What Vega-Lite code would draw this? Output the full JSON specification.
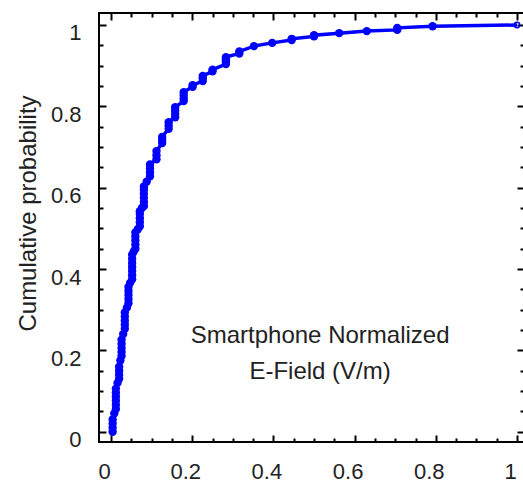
{
  "$schema": "https://vega.github.io/schema/vega-lite/v6.json",
  "width": 425,
  "height": 429,
  "autosize": {"type": "none"},
  "padding": {"left": 99, "top": 13, "right": 0, "bottom": 47},
  "background": "white",
  "config": {
    "view": {"stroke": "black", "strokeWidth": 2},
    "axis": {"grid": false, "domain": false, "tickColor": "black", "tickWidth": 2, "labelFont": "Liberation Sans", "labelFontSize": 22, "labelColor": "#222", "titleFont": "Liberation Sans", "titleFontSize": 24, "titleFontWeight": "normal", "titleColor": "#222", "labelFlush": false}
  },
  "data": {"values": [
    {"x": 0.004, "p": 0.0}, {"x": 0.004, "p": 0.01}, {"x": 0.004, "p": 0.02}, {"x": 0.004, "p": 0.03},
    {"x": 0.008, "p": 0.045},
    {"x": 0.012, "p": 0.056}, {"x": 0.012, "p": 0.066}, {"x": 0.012, "p": 0.076}, {"x": 0.012, "p": 0.086}, {"x": 0.012, "p": 0.096}, {"x": 0.012, "p": 0.106},
    {"x": 0.016, "p": 0.12},
    {"x": 0.02, "p": 0.13}, {"x": 0.02, "p": 0.14}, {"x": 0.02, "p": 0.15}, {"x": 0.02, "p": 0.16},
    {"x": 0.023, "p": 0.175},
    {"x": 0.026, "p": 0.186}, {"x": 0.026, "p": 0.196}, {"x": 0.026, "p": 0.206}, {"x": 0.026, "p": 0.216}, {"x": 0.026, "p": 0.226},
    {"x": 0.03, "p": 0.24},
    {"x": 0.034, "p": 0.253}, {"x": 0.034, "p": 0.263}, {"x": 0.034, "p": 0.273}, {"x": 0.034, "p": 0.283}, {"x": 0.034, "p": 0.293},
    {"x": 0.039, "p": 0.305},
    {"x": 0.043, "p": 0.316}, {"x": 0.043, "p": 0.326}, {"x": 0.043, "p": 0.336}, {"x": 0.043, "p": 0.346}, {"x": 0.043, "p": 0.356},
    {"x": 0.047, "p": 0.366},
    {"x": 0.052, "p": 0.375}, {"x": 0.052, "p": 0.385}, {"x": 0.052, "p": 0.395}, {"x": 0.052, "p": 0.405}, {"x": 0.052, "p": 0.415}, {"x": 0.052, "p": 0.425}, {"x": 0.052, "p": 0.435},
    {"x": 0.056, "p": 0.443},
    {"x": 0.06, "p": 0.45}, {"x": 0.06, "p": 0.46}, {"x": 0.06, "p": 0.47}, {"x": 0.06, "p": 0.48}, {"x": 0.06, "p": 0.49},
    {"x": 0.066, "p": 0.498},
    {"x": 0.071, "p": 0.505}, {"x": 0.071, "p": 0.515}, {"x": 0.071, "p": 0.525}, {"x": 0.071, "p": 0.535}, {"x": 0.071, "p": 0.542},
    {"x": 0.076, "p": 0.55},
    {"x": 0.081, "p": 0.555}, {"x": 0.081, "p": 0.565}, {"x": 0.081, "p": 0.575}, {"x": 0.081, "p": 0.585}, {"x": 0.081, "p": 0.595}, {"x": 0.081, "p": 0.603},
    {"x": 0.088, "p": 0.615},
    {"x": 0.096, "p": 0.628}, {"x": 0.096, "p": 0.638}, {"x": 0.096, "p": 0.648}, {"x": 0.096, "p": 0.657},
    {"x": 0.112, "p": 0.67}, {"x": 0.112, "p": 0.68}, {"x": 0.112, "p": 0.69},
    {"x": 0.126, "p": 0.71}, {"x": 0.126, "p": 0.718}, {"x": 0.126, "p": 0.725},
    {"x": 0.142, "p": 0.745}, {"x": 0.142, "p": 0.753}, {"x": 0.142, "p": 0.761},
    {"x": 0.158, "p": 0.773}, {"x": 0.158, "p": 0.782}, {"x": 0.158, "p": 0.79}, {"x": 0.158, "p": 0.798},
    {"x": 0.179, "p": 0.813}, {"x": 0.179, "p": 0.82}, {"x": 0.179, "p": 0.828}, {"x": 0.179, "p": 0.835},
    {"x": 0.201, "p": 0.848}, {"x": 0.201, "p": 0.852},
    {"x": 0.226, "p": 0.862}, {"x": 0.226, "p": 0.869}, {"x": 0.226, "p": 0.875},
    {"x": 0.25, "p": 0.886}, {"x": 0.25, "p": 0.89},
    {"x": 0.283, "p": 0.904}, {"x": 0.283, "p": 0.91}, {"x": 0.283, "p": 0.916}, {"x": 0.283, "p": 0.921},
    {"x": 0.316, "p": 0.93}, {"x": 0.316, "p": 0.935},
    {"x": 0.352, "p": 0.948},
    {"x": 0.397, "p": 0.956},
    {"x": 0.445, "p": 0.963}, {"x": 0.445, "p": 0.966},
    {"x": 0.5, "p": 0.972}, {"x": 0.5, "p": 0.975},
    {"x": 0.562, "p": 0.98},
    {"x": 0.63, "p": 0.985},
    {"x": 0.705, "p": 0.988}, {"x": 0.705, "p": 0.993},
    {"x": 0.792, "p": 0.997},
    {"x": 1.0, "p": 1.0}
  ]},
  "layer": [
    {
      "mark": {"type": "line", "color": "#0000ff", "strokeWidth": 3.5},
      "encoding": {
        "x": {"field": "x", "type": "quantitative", "scale": {"domain": [-0.0296, 1.0172], "nice": false, "zero": false},
          "axis": {"orient": "bottom", "values": [0, 0.2, 0.4, 0.6, 0.8, 1], "format": "~g", "tickSize": -7, "labelPadding": 26, "labelOffset": -7, "title": null}},
        "y": {"field": "p", "type": "quantitative", "scale": {"domain": [-0.0253, 1.0295], "nice": false, "zero": false},
          "axis": {"orient": "left", "values": [0, 0.2, 0.4, 0.6, 0.8, 1], "format": "~g", "tickSize": -7, "labelPadding": 25, "labelOffset": 8, "title": "Cumulative probability", "titlePadding": 10, "titleY": 200}},
        "order": {"field": "p", "type": "quantitative"}
      }
    },
    {
      "transform": [{"filter": "datum.x < 1"}],
      "mark": {"type": "point", "filled": true, "shape": "circle", "color": "#0000ff", "opacity": 1, "size": 70},
      "encoding": {
        "x": {"field": "x", "type": "quantitative", "axis": {"orient": "top", "values": [0, 0.2, 0.4, 0.6, 0.8, 1], "labels": false, "tickSize": -7, "title": null}},
        "y": {"field": "p", "type": "quantitative", "axis": {"orient": "right", "values": [0, 0.2, 0.4, 0.6, 0.8, 1], "labels": false, "tickSize": -7, "title": null}}
      }
    },
    {
      "transform": [{"filter": "datum.x >= 1"}],
      "mark": {"type": "point", "filled": false, "shape": "circle", "color": "#0000ff", "opacity": 1, "size": 30, "strokeWidth": 1.5},
      "encoding": {
        "x": {"field": "x", "type": "quantitative", "axis": {"orient": "bottom", "values": [0.05, 0.1, 0.15, 0.25, 0.3, 0.35, 0.45, 0.5, 0.55, 0.65, 0.7, 0.75, 0.85, 0.9, 0.95], "labels": false, "tickSize": -4, "title": null}},
        "y": {"field": "p", "type": "quantitative", "axis": {"orient": "left", "values": [0.05, 0.1, 0.15, 0.25, 0.3, 0.35, 0.45, 0.5, 0.55, 0.65, 0.7, 0.75, 0.85, 0.9, 0.95], "labels": false, "tickSize": -4, "title": null}}
      }
    },
    {
      "transform": [{"filter": "datum.x >= 1"}],
      "mark": {"type": "point", "opacity": 0},
      "encoding": {
        "x": {"field": "x", "type": "quantitative", "axis": {"orient": "top", "values": [0.05, 0.1, 0.15, 0.25, 0.3, 0.35, 0.45, 0.5, 0.55, 0.65, 0.7, 0.75, 0.85, 0.9, 0.95], "labels": false, "tickSize": -4, "title": null}},
        "y": {"field": "p", "type": "quantitative", "axis": {"orient": "right", "values": [0.05, 0.1, 0.15, 0.25, 0.3, 0.35, 0.45, 0.5, 0.55, 0.65, 0.7, 0.75, 0.85, 0.9, 0.95], "labels": false, "tickSize": -4, "title": null}}
      }
    },
    {
      "data": {"values": [{"label": "Smartphone Normalized\nE-Field (V/m)"}]},
      "mark": {"type": "text", "align": "center", "baseline": "alphabetic", "lineBreak": "\n", "lineHeight": 36, "font": "Liberation Sans", "fontSize": 24, "color": "#222"},
      "encoding": {
        "x": {"datum": 0.515, "type": "quantitative", "axis": null},
        "y": {"datum": 0.218, "type": "quantitative", "axis": null},
        "text": {"field": "label"}
      }
    }
  ],
  "resolve": {"axis": {"x": "independent", "y": "independent"}}
}
